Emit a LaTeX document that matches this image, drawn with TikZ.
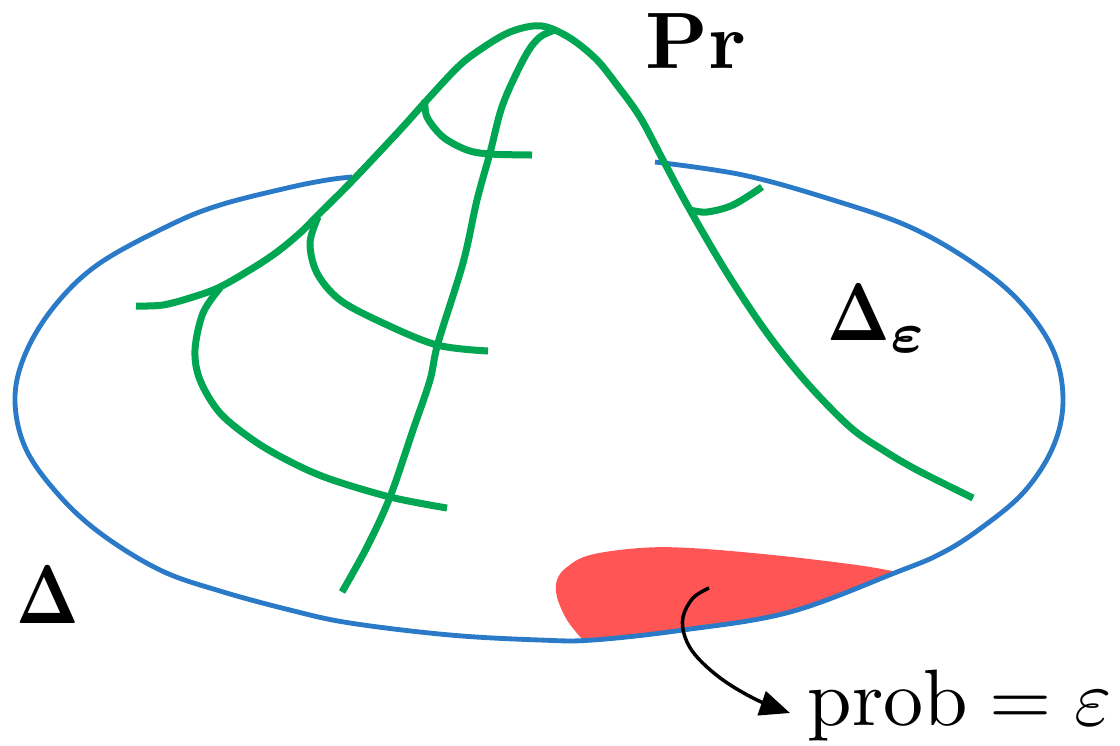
\documentclass[tikz,border=0pt]{standalone}
\usepackage{amsmath,bm,graphicx}
\usetikzlibrary{arrows.meta}
\definecolor{bellgreen}{RGB}{0,166,81}
\definecolor{rimblue}{RGB}{42,122,200}
\definecolor{probred}{RGB}{255,85,85}
\tikzset{
  bell/.style={draw=bellgreen, line width=2.1pt, line join=round},
  rim/.style={draw=rimblue, line width=1.45pt, line join=round},
  lbl/.style={inner sep=0pt, font=\normalsize, text=black},
  pointer/.style={draw=black, line width=1.05pt, -{Triangle[length=9pt,width=7.5pt]}},
}
\begin{document}
\begin{tikzpicture}[x=0.3pt,y=-0.3pt]
\useasboundingbox (0,0) rectangle (1120,745);
% red region
\fill[probred] plot[smooth,tension=0.6] coordinates {(582,639) (567,620) (557,597) (557,580) (567,567) (590,555) (640,548) (690,548) (773,555) (857,565) (897,572)}
  -- plot[smooth,tension=0.6] coordinates {(897,573) (790,613) (683,631) (593,641) (582,641)} -- cycle;
% blue rim (visible part)
\draw[rim] plot[smooth,tension=0.6] coordinates {(655,162) (743,175) (833,200) (910,227) (973,263) (1020,302) (1053,350) (1063,400) (1053,447) (1023,493) (977,531) (940,554) (897,572) (790,612) (683,630) (593,640) (540,640) (450,635) (350,623) (290,610) (220,591) (160,570) (100,533) (57,493) (25,447) (15,397) (27,350) (57,303) (100,263) (170,225) (220,205) (287,188) (327,180) (352,177)};
% green bell
\draw[bell] plot[smooth,tension=0.55] coordinates {(136,306) (163,305) (193,297) (220,287) (253,268) (277,252) (300,233) (320,213) (353,180) (400,130) (427,100) (460,65) (487,45) (510,32) (533,26) (550,28) (573,40) (597,60) (617,85) (640,117) (663,160) (690,210) (727,273) (767,333) (807,383) (850,427) (883,450) (917,470) (973,498)};
\draw[bell] plot[smooth,tension=0.55] coordinates {(555,30) (540,37) (527,53) (510,87) (500,113) (490,153) (477,200) (463,263) (438,343) (430,380) (413,430) (390,497) (367,547) (342,592)};
\draw[bell] plot[smooth,tension=0.55] coordinates {(425,100) (427,117) (443,137) (467,150) (490,154) (532,155)};
\draw[bell] plot[smooth,tension=0.55] coordinates {(318,217) (310,243) (317,273) (340,300) (383,323) (437,345) (488,351)};
\draw[bell] plot[smooth,tension=0.55] coordinates {(220,288) (203,313) (195,350) (200,380) (220,413) (253,440) (287,460) (327,478) (390,497) (447,508)};
\draw[bell] plot[smooth,tension=0.55] coordinates {(690,210) (707,212) (733,205) (762,187)};
% labels
\node[lbl, anchor=base west] (pr) at (645,68) {\scalebox{2.4}{$\mathbf{Pr}$}};
\node[lbl, anchor=base west] (delta) at (16,623) {\scalebox{1.96}[2.5]{$\mathbf{\Delta}$}};
\node[lbl, anchor=base west] (deltaeps) at (827,340) {\scalebox{2.45}{\scalebox{0.8}[1]{$\mathbf{\Delta}$}$_{\bm{\varepsilon}}$}};
\node[lbl, anchor=base west] (prob) at (807,725) {\scalebox{2.4}{$\mathrm{prob}=\varepsilon$}};
% arrow
\coordinate (src) at (709,588);
\draw[pointer] plot[smooth,tension=0.6] coordinates {(src) (693,598) (683,617) (685,637) (697,657) (723,680) (757,700) (790,713)};
\end{tikzpicture}
\end{document}
